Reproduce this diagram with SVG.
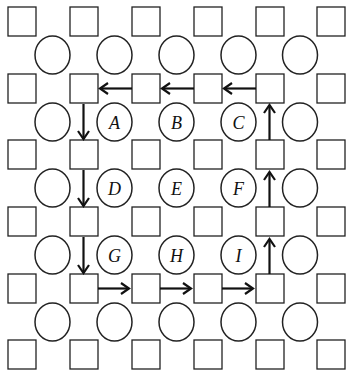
<svg xmlns="http://www.w3.org/2000/svg" width="346" height="374" viewBox="0 0 346 374">
<style>
.sq{fill:#fff;stroke:#222;stroke-width:1.3}
.ci{fill:#fff;stroke:#222;stroke-width:1.5}
.lb{font-family:"Liberation Serif","DejaVu Serif",serif;font-style:italic;font-size:18px;fill:#111;text-anchor:middle}
.ar{stroke:#111;stroke-width:2.2;fill:none;marker-end:url(#ah)}
</style>
<defs>
<marker id="ah" markerUnits="userSpaceOnUse" viewBox="-10 -7 12 14" refX="0" refY="0" markerWidth="12" markerHeight="14" orient="auto">
<path d="M-8,-5.5 L0,0 L-8,5.5" fill="none" stroke="#111" stroke-width="2.2"/>
</marker>
</defs>
<rect width="346" height="374" fill="#fff"/>
<g id="squares">
<rect class="sq" x="8" y="7" width="28" height="29"/><rect class="sq" x="70" y="7" width="28" height="29"/><rect class="sq" x="132" y="7" width="28" height="29"/><rect class="sq" x="194" y="7" width="28" height="29"/><rect class="sq" x="256" y="7" width="28" height="29"/><rect class="sq" x="317" y="7" width="28" height="29"/>
<rect class="sq" x="8" y="74" width="28" height="29"/><rect class="sq" x="70" y="74" width="28" height="29"/><rect class="sq" x="132" y="74" width="28" height="29"/><rect class="sq" x="194" y="74" width="28" height="29"/><rect class="sq" x="256" y="74" width="28" height="29"/><rect class="sq" x="317" y="74" width="28" height="29"/>
<rect class="sq" x="8" y="140" width="28" height="29"/><rect class="sq" x="70" y="140" width="28" height="29"/><rect class="sq" x="132" y="140" width="28" height="29"/><rect class="sq" x="194" y="140" width="28" height="29"/><rect class="sq" x="256" y="140" width="28" height="29"/><rect class="sq" x="317" y="140" width="28" height="29"/>
<rect class="sq" x="8" y="207" width="28" height="29"/><rect class="sq" x="70" y="207" width="28" height="29"/><rect class="sq" x="132" y="207" width="28" height="29"/><rect class="sq" x="194" y="207" width="28" height="29"/><rect class="sq" x="256" y="207" width="28" height="29"/><rect class="sq" x="317" y="207" width="28" height="29"/>
<rect class="sq" x="8" y="274" width="28" height="29"/><rect class="sq" x="70" y="274" width="28" height="29"/><rect class="sq" x="132" y="274" width="28" height="29"/><rect class="sq" x="194" y="274" width="28" height="29"/><rect class="sq" x="256" y="274" width="28" height="29"/><rect class="sq" x="317" y="274" width="28" height="29"/>
<rect class="sq" x="8" y="340" width="28" height="29"/><rect class="sq" x="70" y="340" width="28" height="29"/><rect class="sq" x="132" y="340" width="28" height="29"/><rect class="sq" x="194" y="340" width="28" height="29"/><rect class="sq" x="256" y="340" width="28" height="29"/><rect class="sq" x="317" y="340" width="28" height="29"/>
</g>
<g id="circles">
<ellipse class="ci" cx="52.5" cy="55" rx="17.5" ry="19"/><ellipse class="ci" cx="114.5" cy="55" rx="17.5" ry="19"/><ellipse class="ci" cx="176.5" cy="55" rx="17.5" ry="19"/><ellipse class="ci" cx="238.5" cy="55" rx="17.5" ry="19"/><ellipse class="ci" cx="300" cy="55" rx="17.5" ry="19"/>
<ellipse class="ci" cx="52.5" cy="122" rx="17.5" ry="19"/><ellipse class="ci" cx="300" cy="122" rx="17.5" ry="19"/>
<ellipse class="ci" cx="52.5" cy="188" rx="17.5" ry="19"/><ellipse class="ci" cx="300" cy="188" rx="17.5" ry="19"/>
<ellipse class="ci" cx="52.5" cy="255" rx="17.5" ry="19"/><ellipse class="ci" cx="300" cy="255" rx="17.5" ry="19"/>
<ellipse class="ci" cx="52.5" cy="322" rx="17.5" ry="19"/><ellipse class="ci" cx="114.5" cy="322" rx="17.5" ry="19"/><ellipse class="ci" cx="176.5" cy="322" rx="17.5" ry="19"/><ellipse class="ci" cx="238.5" cy="322" rx="17.5" ry="19"/><ellipse class="ci" cx="300" cy="322" rx="17.5" ry="19"/>
</g>
<g id="nodeA"><ellipse class="ci" cx="114.5" cy="122" rx="17.5" ry="19"/><text class="lb" x="114.5" y="128.5">A</text></g>
<g id="nodeB"><ellipse class="ci" cx="176.5" cy="122" rx="17.5" ry="19"/><text class="lb" x="176.5" y="128.5">B</text></g>
<g id="nodeC"><ellipse class="ci" cx="238.5" cy="122" rx="17.5" ry="19"/><text class="lb" x="238.5" y="128.5">C</text></g>
<g id="nodeD"><ellipse class="ci" cx="114.5" cy="188" rx="17.5" ry="19"/><text class="lb" x="114.5" y="194.5">D</text></g>
<g id="nodeE"><ellipse class="ci" cx="176.5" cy="188" rx="17.5" ry="19"/><text class="lb" x="176.5" y="194.5">E</text></g>
<g id="nodeF"><ellipse class="ci" cx="238.5" cy="188" rx="17.5" ry="19"/><text class="lb" x="238.5" y="194.5">F</text></g>
<g id="nodeG"><ellipse class="ci" cx="114.5" cy="255" rx="17.5" ry="19"/><text class="lb" x="114.5" y="261.5">G</text></g>
<g id="nodeH"><ellipse class="ci" cx="176.5" cy="255" rx="17.5" ry="19"/><text class="lb" x="176.5" y="261.5">H</text></g>
<g id="nodeI"><ellipse class="ci" cx="238.5" cy="255" rx="17.5" ry="19"/><text class="lb" x="238.5" y="261.5">I</text></g>
<g id="connectors">
<line class="ar" x1="256" y1="88.5" x2="224" y2="88.5"/>
<line class="ar" x1="194" y1="88.5" x2="162" y2="88.5"/>
<line class="ar" x1="132" y1="88.5" x2="100" y2="88.5"/>
<line class="ar" x1="83.5" y1="104" x2="83.5" y2="139"/>
<line class="ar" x1="83.5" y1="170" x2="83.5" y2="206"/>
<line class="ar" x1="83.5" y1="237" x2="83.5" y2="273"/>
<line class="ar" x1="98" y1="288.5" x2="129" y2="288.5"/>
<line class="ar" x1="160" y1="288.5" x2="191" y2="288.5"/>
<line class="ar" x1="222" y1="288.5" x2="253" y2="288.5"/>
<line class="ar" x1="269.5" y1="274" x2="269.5" y2="239"/>
<line class="ar" x1="269.5" y1="207" x2="269.5" y2="172"/>
<line class="ar" x1="269.5" y1="140" x2="269.5" y2="105"/>
</g>
</svg>
